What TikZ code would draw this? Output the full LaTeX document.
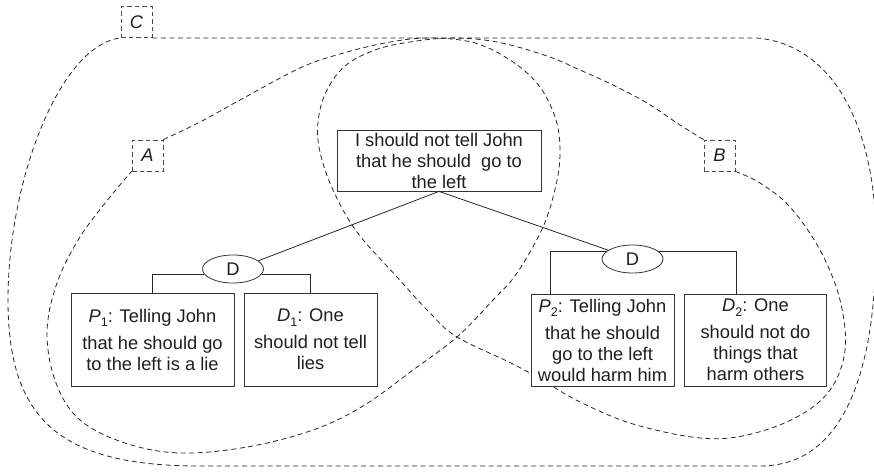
\documentclass[tikz,border=0pt]{standalone}
\usepackage{fontspec}
\setmainfont{Liberation Sans}
\usetikzlibrary{shapes.geometric}

% lowered index digit, as in P1 and D1
\newcommand\lowidx[1]{\raisebox{-0.45ex}{\fontsize{12.5}{12.5}\selectfont #1}}

\tikzset{
  txt/.style={font=\fontsize{18.3}{21}\selectfont, text=black!88},
  stmt/.style={txt, draw=black!80, line width=0.8pt, fill=white, inner sep=0pt, align=center},
  dnode/.style={txt, draw=black!80, line width=0.8pt, fill=white, ellipse, inner sep=0pt,
                minimum width=61pt, minimum height=28pt},
  tag/.style={txt, draw=black!70, line width=0.8pt, dash pattern=on 4.5pt off 3pt,
              inner sep=0pt, minimum width=31pt, minimum height=31pt, font=\fontsize{18.3}{21}\selectfont\itshape},
  region/.style={draw=black!85, line width=0.8pt, dash pattern=on 5pt off 3.5pt},
  link/.style={draw=black!85, line width=0.8pt},
}

\begin{document}
\begin{tikzpicture}[x=1pt,y=-1pt]
\useasboundingbox (0,0) rectangle (874,472);

% region labels
\node[tag] (C) at (136.5,22) {C};
\node[tag] (A) at (147.5,155.5) {A};
\node[tag] (B) at (719.5,155.5) {B};

% outer region C
\path[region] (C.south east) -- (757,38)
  .. controls (835,45) and (876,130) .. (876,240)
  .. controls (876,380) and (840,466) .. (760,466)
  -- (200,466)
  .. controls (60,466) and (8,420) .. (8,300)
  .. controls (8,180) and (60,45) .. (C.south west);

% region A
\path[region] plot[smooth, tension=0.6] coordinates {
  (A.north east) (200,122) (240,100) (300,68) (340,54) (385,43) (428,38)
  (475,43) (513,62) (540,87) (556,120) (560,152) (556,185) (543,227)
  (517,273) (493,300) (457,337) (413,370) (363,406) (313,430) (247,447)
  (180,453) (125,443) (80,420) (56,383) (47,333) (57,283) (80,237)
  (110,197) (A.south west)};

% region B
\path[region] plot[smooth, tension=0.6] coordinates {
  (B.north west) (680,125) (647,103) (613,85) (580,70) (547,56) (497,42)
  (452,38) (410,42) (375,50) (345,66) (326,92) (318,122) (320,152)
  (333,190) (357,232) (397,277) (430,313) (457,337) (513,364) (547,383)
  (580,402) (633,424) (700,438) (747,435) (797,417) (830,390) (845,350)
  (840,300) (820,250) (790,207) (760,183) (B.south east)};

% statements
\node[stmt, minimum width=204pt, minimum height=61pt] (top) at (439,160.5)
  {I should not tell John\\that he should~ go to\\the left};

\node[dnode] (Dl) at (233,269) {D};
\node[dnode] (Dr) at (632.5,259) {D};

\node[stmt, minimum width=163pt, minimum height=93pt] (P1) at (152.5,339.5)
  {\textit{P}\lowidx{1}: Telling John\\[6pt]that he should go\\to the left is a lie};
\node[stmt, minimum width=133pt, minimum height=93pt] (D1) at (310.5,339.5)
  {\textit{D}\lowidx{1}: One\\[6pt]should not tell\\lies};
\node[stmt, minimum width=143pt, minimum height=92pt] (P2) at (602.5,340)
  {\textit{P}\lowidx{2}: Telling John\\[6pt]that he should\\go to the left\\would harm him};
\node[stmt, minimum width=142pt, minimum height=92pt] (D2) at (755.5,340)
  {\textit{D}\lowidx{2}: One\\[6pt]should not do\\things that\\harm others};

% tree connectors
\path[link] (top.south) -- (Dl.18);
\path[link] (top.south) -- (Dr.160);
\path[link] (Dl.190) -| (P1.north);
\path[link] (Dl.350) -| (D1.north);
\path[link] (Dr.165) -| ([xshift=20pt]P2.north west);
\path[link] (Dr.15) -| ([xshift=-19pt]D2.north);
\end{tikzpicture}
\end{document}
